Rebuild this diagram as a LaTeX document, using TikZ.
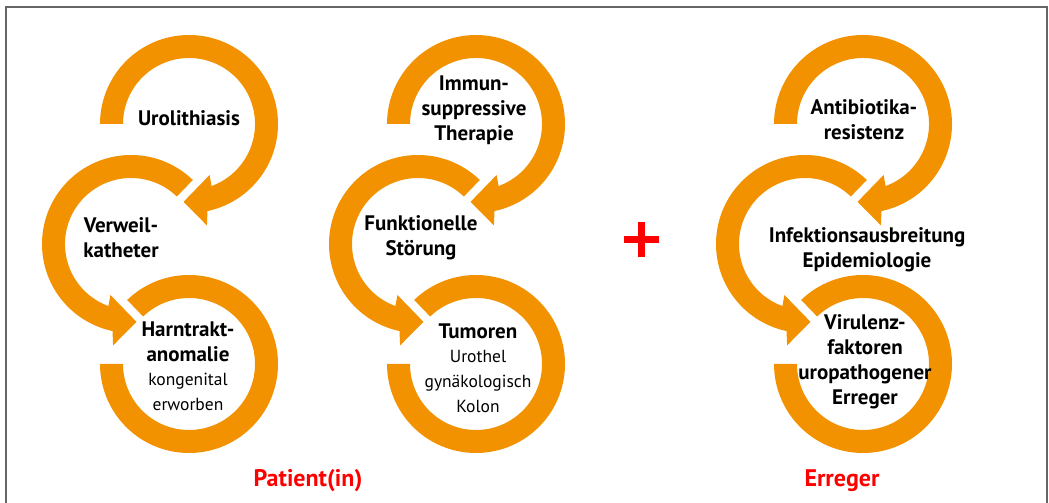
\documentclass[tikz,border=0pt]{standalone}
\usepackage{fontspec}
\setmainfont{PT Sans}
\usetikzlibrary{positioning}
\definecolor{ringorange}{RGB}{243,146,0}
\definecolor{labelred}{RGB}{255,0,0}
\definecolor{framegray}{RGB}{102,102,102}
\newcommand{\thin}{\fontsize{17.5}{22}\selectfont\mdseries}

\begin{document}
\begin{tikzpicture}[x=1pt, y=1pt,
    ring/.style={fill=ringorange},
    ringtext/.style={font=\fontsize{21}{25}\selectfont\bfseries, align=center, inner sep=0pt},
    grouplabel/.style={font=\fontsize{24}{28}\selectfont\bfseries, text=labelred, inner sep=0pt},
]
\useasboundingbox (0,0) rectangle (1049,503);
\draw[framegray, line width=2pt] (6,0) -- (6,496) -- (1047,496) -- (1047,0);

% three columns of rings
\foreach \dx/\n in {0/a, 287/b, 674/c} {
  \coordinate (top\n) at (189+\dx,379);
  \coordinate (mid\n) at (131+\dx,259);
  \coordinate (bot\n) at (189+\dx,139);
  % upper ring, arrow down to the middle one
  \fill[ring, shift={(top\n)}] (180:89) arc[start angle=180, end angle=-78, radius=89]
    -- (-80:103) -- (-94:78) -- (-68:55) -- (-70:66)
    arc[start angle=-70, end angle=180, radius=66] -- cycle;
  % middle ring, arrow into the lower one
  \fill[ring, shift={(mid\n)}] (46:89) arc[start angle=46, end angle=258, radius=89]
    -- (260:103) -- (274:78) -- (248:55) -- (250:66)
    arc[start angle=250, end angle=46, radius=66] -- cycle;
  % lower ring
  \fill[ring, shift={(bot\n)}] (134:89) arc[start angle=134, end angle=-180, radius=89]
    -- (180:66) arc[start angle=180, end angle=494, radius=66] -- cycle;
}

% Patient(in)
\node[ringtext] (uro) at (189,385) {Urolithiasis};
\node[ringtext] (kath) at (121,265) {Verweil-\\katheter};
\node[ringtext] (harn) at (188,137) {Harntrakt-\\anomalie\\[-1pt]\thin kongenital\\\thin erworben};
\node[ringtext] (immun) at (474,393) {Immun-\\suppressive\\Therapie};
\node[ringtext] (funk) at (421,265) {Funktionelle\\Störung};
\node[ringtext] (tumor) at (478,135) {Tumoren\\[-1pt]\thin Urothel\\\thin gynäkologisch\\\thin Kolon};

% Erreger
\node[ringtext] (resist) at (864,383) {Antibiotika-\\resistenz};
\node[ringtext] (epi) at (867,253) {Infektionsausbreitung\\Epidemiologie};
\node[ringtext] (viru) at (865,141) {Virulenz-\\faktoren\\uropathogener\\Erreger};

% plus between the groups
\coordinate (plus) at (641,263);
\fill[labelred] ([shift={(-17.5,-3.5)}]plus) rectangle ([shift={(17.5,3.5)}]plus);
\fill[labelred] ([shift={(-3.5,-17.5)}]plus) rectangle ([shift={(3.5,17.5)}]plus);

\node[grouplabel] (patient) at (308,22) {Patient(in)};
\node[grouplabel] (erreger) at (842,22) {Erreger};
\end{tikzpicture}
\end{document}
